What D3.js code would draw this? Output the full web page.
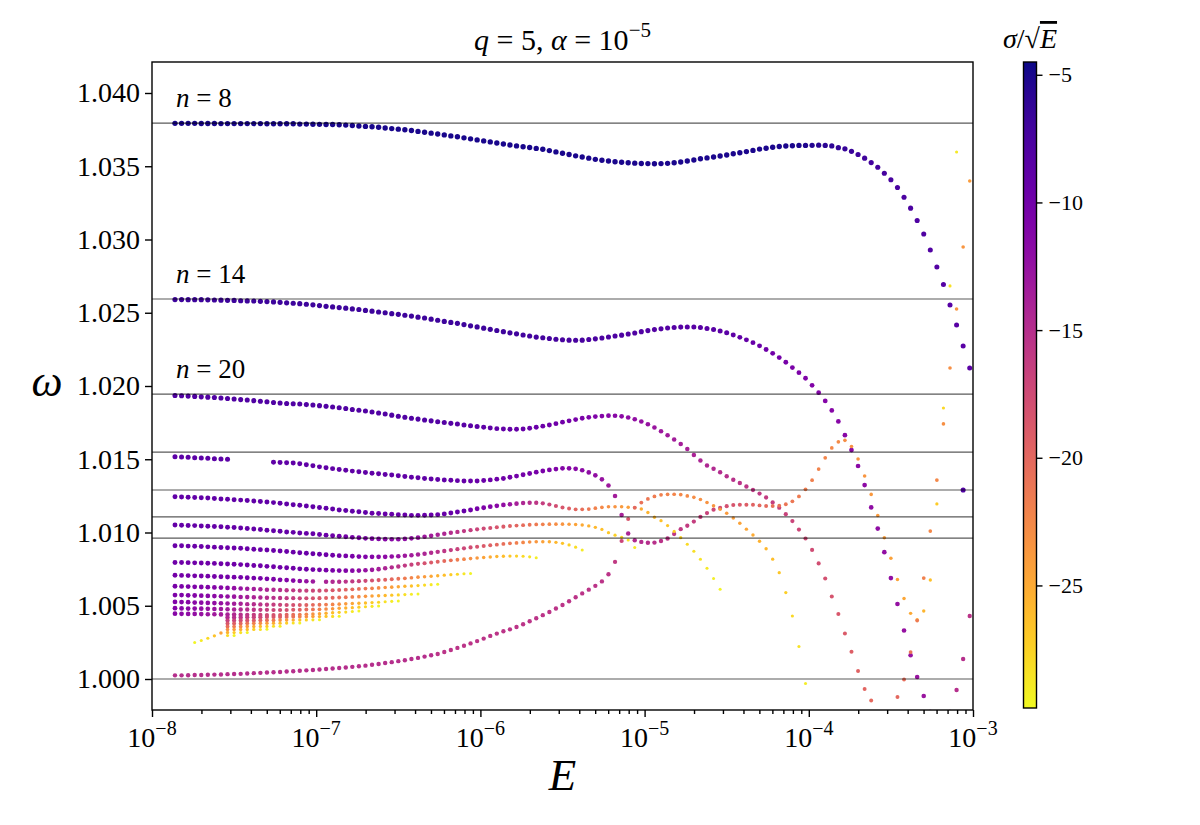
<!DOCTYPE html>
<html lang="en">
<head>
<meta charset="UTF-8">
<title>omega vs E</title>
<script src="https://cdn.jsdelivr.net/npm/d3@7"></script>
<style>
    body { margin: 0; background: #fff; }
    text { font-family: "Liberation Serif", "DejaVu Serif", serif; fill: #000; }
</style>
</head>
<body>
<svg width="1200" height="825"></svg>
<script>
// shared grid of log10(E) values the solutions were computed on
var logE = [-7.86,-7.82,-7.78,-7.74,-7.70,-7.66,-7.62,-7.58,-7.54,-7.50,
    -7.46,-7.42,-7.38,-7.34,-7.30,-7.26,-7.22,-7.18,-7.14,-7.10,
    -7.06,-7.02,-6.98,-6.94,-6.90,-6.86,-6.82,-6.78,-6.74,-6.70,
    -6.66,-6.62,-6.58,-6.54,-6.50,-6.46,-6.42,-6.38,-6.34,-6.30,
    -6.26,-6.22,-6.18,-6.14,-6.10,-6.06,-6.02,-5.98,-5.94,-5.90,
    -5.86,-5.82,-5.78,-5.74,-5.70,-5.66,-5.62,-5.58,-5.54,-5.50,
    -5.46,-5.42,-5.38,-5.34,-5.30,-5.26,-5.22,-5.18,-5.14,-5.10,
    -5.06,-5.02,-4.98,-4.94,-4.90,-4.86,-4.82,-4.78,-4.74,-4.70,
    -4.66,-4.62,-4.58,-4.54,-4.50,-4.46,-4.42,-4.38,-4.34,-4.30,
    -4.26,-4.22,-4.18,-4.14,-4.10,-4.06,-4.02,-3.98,-3.94,-3.90,
    -3.86,-3.82,-3.78,-3.74,-3.70,-3.66,-3.62,-3.58,-3.54,-3.50,
    -3.46,-3.42,-3.38,-3.34,-3.30,-3.26,-3.22,-3.18,-3.14,-3.10,
    -3.06,-3.02];

// asymptotic frequencies (horizontal lines)
var asymptotes = [1.03795, 1.02594, 1.01945, 1.01549, 1.01290, 1.01106, 1.00962, 1.00000];
var levelLabels = [["8", 1.03795], ["14", 1.02594], ["20", 1.01945]];

// n = 8
var n8_i0 = 0;
var n8_w = [1.03793,1.03793,1.03793,1.03793,1.03792,1.03792,1.03792,1.03791,1.03791,1.03791,
    1.03791,1.03791,1.03791,1.03791,1.03790,1.03790,1.03790,1.03790,1.03790,1.03788,
    1.03788,1.03787,1.03786,1.03785,1.03785,1.03783,1.03781,1.03778,1.03775,1.03772,
    1.03770,1.03766,1.03761,1.03757,1.03753,1.03749,1.03744,1.03738,1.03732,1.03726,
    1.03720,1.03714,1.03707,1.03701,1.03694,1.03687,1.03680,1.03673,1.03666,1.03659,
    1.03652,1.03645,1.03639,1.03633,1.03628,1.03622,1.03616,1.03607,1.03598,1.03589,
    1.03580,1.03571,1.03563,1.03555,1.03547,1.03541,1.03536,1.03531,1.03527,1.03524,
    1.03521,1.03519,1.03518,1.03517,1.03518,1.03520,1.03524,1.03529,1.03536,1.03543,
    1.03551,1.03557,1.03563,1.03570,1.03577,1.03585,1.03592,1.03600,1.03608,1.03617,
    1.03623,1.03630,1.03635,1.03638,1.03640,1.03642,1.03642,1.03643,1.03644,1.03642,
    1.03639,1.03627,1.03619,1.03602,1.03580,1.03555,1.03525,1.03493,1.03452,1.03408,
    1.03355,1.03288,1.03214,1.03130,1.03038,1.02928,1.02812,1.02693,1.02553,1.02416,
    1.02273,1.02123];
var n8_s = [-4.9,-4.9,-4.9,-4.9,-4.9,-4.9,-4.9,-4.9,-4.9,-4.9,
    -4.9,-4.9,-4.9,-4.9,-4.9,-4.9,-4.9,-4.9,-4.9,-4.9,
    -4.9,-4.9,-4.9,-4.9,-4.9,-4.9,-4.9,-4.9,-4.9,-4.9,
    -4.9,-4.9,-4.9,-4.9,-4.9,-4.9,-4.9,-4.9,-4.9,-4.9,
    -4.9,-4.9,-4.9,-4.9,-4.9,-4.9,-4.9,-4.9,-4.9,-4.9,
    -4.9,-4.9,-4.9,-4.9,-4.9,-4.9,-4.9,-4.9,-4.9,-4.9,
    -5,-5,-5,-5,-5,-5,-5,-5,-5,-5,
    -5,-5,-5,-5,-5,-5,-5,-5,-5,-5,
    -5,-5,-5,-5,-5,-5,-5,-5,-5,-5,
    -5,-5,-5,-5,-5,-5,-5.2,-5.4,-5.6,-5.8,
    -6,-6.2,-6.4,-6.6,-6.8,-7,-7.1,-7.2,-7.3,-7.4,
    -7.5,-7.6,-7.7,-7.8,-7.9,-8,-8.1,-8.2,-8.3,-8.4,
    -8.5,-8.6];

// n = 14
var n14_i0 = 0;
var n14_w = [1.02590,1.02590,1.02589,1.02589,1.02589,1.02588,1.02587,1.02586,1.02585,1.02584,
    1.02582,1.02581,1.02580,1.02578,1.02576,1.02574,1.02571,1.02568,1.02565,1.02562,
    1.02558,1.02554,1.02549,1.02544,1.02540,1.02535,1.02531,1.02526,1.02522,1.02516,
    1.02511,1.02505,1.02500,1.02494,1.02489,1.02483,1.02477,1.02470,1.02464,1.02456,
    1.02449,1.02441,1.02434,1.02428,1.02419,1.02411,1.02403,1.02395,1.02387,1.02379,
    1.02371,1.02363,1.02356,1.02348,1.02341,1.02334,1.02329,1.02324,1.02319,1.02316,
    1.02313,1.02312,1.02313,1.02317,1.02322,1.02328,1.02334,1.02341,1.02347,1.02355,
    1.02362,1.02371,1.02378,1.02385,1.02390,1.02396,1.02400,1.02402,1.02403,1.02402,
    1.02399,1.02393,1.02385,1.02375,1.02363,1.02348,1.02332,1.02315,1.02296,1.02274,
    1.02249,1.02223,1.02194,1.02162,1.02126,1.02091,1.02053,1.02005,1.01954,1.01898,
    1.01833,1.01758,1.01664,1.01563,1.01454,1.01324,1.01171,1.01027,1.00866,1.00689,
    1.00512,1.00331,1.00162,1.00014,0.99884,0.99775];
var n14_s = [-6.8,-6.8,-6.8,-6.8,-6.8,-6.8,-6.8,-6.8,-6.8,-6.8,
    -6.8,-6.8,-6.8,-6.8,-6.8,-6.8,-6.8,-6.8,-6.8,-6.8,
    -6.8,-6.8,-6.8,-6.8,-6.8,-6.8,-6.8,-6.8,-6.8,-6.8,
    -6.8,-6.8,-6.8,-6.8,-6.8,-6.8,-6.8,-6.8,-6.8,-6.8,
    -6.8,-6.8,-6.8,-6.8,-6.8,-6.8,-6.8,-6.8,-6.8,-6.8,
    -6.9,-7,-7,-7.1,-7.1,-7.2,-7.2,-7.3,-7.3,-7.4,
    -7.4,-7.5,-7.5,-7.6,-7.6,-7.7,-7.7,-7.8,-7.8,-7.9,
    -7.9,-8,-8,-8.1,-8.1,-8.2,-8.2,-8.3,-8.3,-8.4,
    -8.4,-8.5,-8.5,-8.6,-8.6,-8.8,-9,-9.2,-9.4,-9.6,
    -9.8,-10,-10.2,-10.4,-10.6,-10.8,-11,-11.1,-11.2,-11.3,
    -11.4,-11.5,-11.6,-11.7,-11.8,-11.9,-12,-12.1,-12.2,-12.3,
    -12.4,-12.5,-12.6,-12.7,-12.8,-12.9];

// n = 20
var n20_i0 = 0;
var n20_w = [1.01935,1.01933,1.01931,1.01929,1.01926,1.01924,1.01921,1.01918,1.01915,1.01911,
    1.01907,1.01904,1.01900,1.01896,1.01892,1.01887,1.01884,1.01881,1.01879,1.01877,
    1.01873,1.01870,1.01866,1.01861,1.01857,1.01851,1.01846,1.01840,1.01835,1.01829,
    1.01823,1.01816,1.01809,1.01801,1.01794,1.01787,1.01780,1.01774,1.01768,1.01762,
    1.01756,1.01751,1.01745,1.01740,1.01734,1.01728,1.01723,1.01718,1.01713,1.01709,
    1.01707,1.01705,1.01705,1.01707,1.01712,1.01718,1.01726,1.01734,1.01743,1.01753,
    1.01762,1.01771,1.01780,1.01786,1.01791,1.01795,1.01797,1.01797,1.01793,1.01785,
    1.01773,1.01758,1.01739,1.01717,1.01691,1.01664,1.01635,1.01604,1.01570,1.01529,
    1.01491,1.01458,1.01435,1.01411,1.01384,1.01360,1.01338,1.01314,1.01290,1.01266,
    1.01239,1.01205,1.01169,1.01125,1.01078,1.01020,1.00959,1.00881,1.00789,1.00686,
    1.00563,1.00444,1.00311,1.00186,1.00055,0.99932,0.99853];
var n20_s = [-8,-8,-8,-8,-8,-8,-8,-8,-8,-8,
    -8,-8,-8,-8,-8,-8,-8,-8,-8,-8,
    -8,-8,-8,-8,-8,-8,-8,-8,-8,-8,
    -8,-8,-8,-8,-8,-8,-8,-8,-8,-8,
    -8.1,-8.2,-8.3,-8.4,-8.5,-8.6,-8.7,-8.8,-8.9,-9,
    -9.1,-9.2,-9.3,-9.4,-9.5,-9.6,-9.7,-9.8,-9.9,-10,
    -10.2,-10.4,-10.6,-10.8,-11,-11.2,-11.4,-11.6,-11.8,-12,
    -12.2,-12.4,-12.6,-12.8,-13,-13.2,-13.4,-13.6,-13.8,-14,
    -14.2,-14.4,-14.6,-14.8,-15,-15.2,-15.4,-15.6,-15.8,-16,
    -16.2,-16.4,-16.6,-16.8,-17,-17.2,-17.4,-17.6,-17.8,-18,
    -18.3,-18.6,-18.9,-19.2,-19.5,-19.8,-20.1];

// fourth branch, first piece (before its gap)
var cD1_i0 = 0;
var cD1_w = [1.01517,1.01515,1.01513,1.01511,1.01509,1.01506,1.01504,1.01502,1.01500];
var cD1_s = [-8.7,-8.7,-8.7,-8.7,-8.7,-8.7,-8.7,-8.7,-8.7];

// fourth branch after the gap: dip, plateau, bump and steep rise at the right edge
var cD2_i0 = 15;
var cD2_w = [1.01479,1.01478,1.01476,1.01474,1.01469,1.01462,1.01455,1.01448,1.01442,1.01436,
    1.01430,1.01425,1.01419,1.01414,1.01410,1.01405,1.01401,1.01396,1.01392,1.01387,
    1.01382,1.01377,1.01373,1.01369,1.01365,1.01362,1.01358,1.01356,1.01354,1.01352,
    1.01352,1.01352,1.01355,1.01359,1.01364,1.01369,1.01377,1.01385,1.01394,1.01403,
    1.01412,1.01420,1.01427,1.01433,1.01438,1.01438,1.01435,1.01425,1.01410,1.01390,
    1.01363,1.01321,1.01249,1.01119,1.00993,1.00947,1.00936,1.00930,1.00931,1.00942,
    1.00959,1.00990,1.01023,1.01046,1.01075,1.01106,1.01133,1.01156,1.01168,1.01180,
    1.01188,1.01190,1.01190,1.01190,1.01185,1.01181,1.01181,1.01183,1.01193,1.01213,
    1.01246,1.01295,1.01357,1.01433,1.01510,1.01577,1.01619,1.01629,1.01587,1.01502,
    1.01386,1.01260,1.01116,1.00964,1.00825,1.00679,1.00550,1.00448,1.00405,1.00464,
    1.00676,1.01195,1.01850,1.02683,1.03597];
var cD2_s = [-8.9,-8.9,-8.9,-8.9,-8.9,-8.9,-8.9,-8.9,-8.9,-8.9,
    -8.9,-8.9,-8.9,-8.9,-8.9,-8.9,-8.9,-8.9,-8.9,-8.9,
    -8.9,-8.9,-8.9,-8.9,-8.9,-8.9,-9,-9.1,-9.2,-9.3,
    -9.4,-9.5,-9.6,-9.7,-9.8,-9.9,-10,-10.1,-10.2,-10.3,
    -10.4,-10.6,-10.8,-11,-11.2,-11.4,-11.6,-11.8,-12,-12.2,
    -12.6,-13,-13.4,-13.8,-14.2,-14.6,-14.8,-15,-15.2,-15.4,
    -15.6,-15.8,-16,-16.2,-16.4,-16.6,-16.8,-17.2,-17.6,-18,
    -18.4,-18.8,-19.2,-19.6,-20,-20.3,-20.6,-20.9,-21.1,-21.3,
    -21.5,-21.7,-21.9,-22.1,-22.3,-22.5,-22.7,-22.9,-23.1,-23.3,
    -23.5,-23.7,-23.9,-24.1,-24.3,-24.5,-24.7,-24.9,-25.1,-25.7,
    -26.4,-27.1,-27.8,-28.4,-28.9];

// fifth branch
var cE_i0 = 0;
var cE_w = [1.01244,1.01242,1.01241,1.01239,1.01237,1.01235,1.01232,1.01229,1.01227,1.01224,
    1.01221,1.01218,1.01215,1.01212,1.01208,1.01204,1.01200,1.01195,1.01190,1.01186,
    1.01181,1.01176,1.01171,1.01165,1.01160,1.01154,1.01150,1.01145,1.01141,1.01137,
    1.01132,1.01130,1.01126,1.01124,1.01121,1.01119,1.01117,1.01117,1.01118,1.01120,
    1.01122,1.01127,1.01133,1.01140,1.01147,1.01154,1.01162,1.01169,1.01176,1.01182,
    1.01188,1.01193,1.01197,1.01201,1.01203,1.01203,1.01199,1.01191,1.01181,1.01171,
    1.01163,1.01158,1.01158,1.01160,1.01166,1.01172,1.01176,1.01176,1.01176,1.01173,
    1.01169,1.01160,1.01137,1.01104,1.01081,1.01047,1.01007,1.00965,1.00920,1.00872,
    1.00817,1.00756,1.00686,1.00613];
var cE_s = [-9,-9,-9,-9,-9,-9,-9,-9,-9,-9,
    -9,-9,-9,-9,-9,-9,-9,-9,-9,-9,
    -9,-9,-9,-9,-9,-9,-9,-9,-9,-9,
    -9.4,-9.4,-9.4,-9.4,-9.4,-9.4,-9.4,-9.4,-9.4,-9.4,
    -9.4,-9.4,-9.4,-9.4,-9.4,-10,-10.4,-10.8,-11.2,-11.6,
    -12.2,-12.9,-13.6,-14.3,-15,-15.7,-16.4,-17.1,-17.8,-18.5,
    -19.2,-19.9,-20.6,-21.3,-22,-22.5,-23,-23.4,-23.8,-24.2,
    -24.6,-25,-25.6,-26,-26.4,-26.8,-27.2,-27.6,-28,-28.3,
    -28.6,-28.9,-29.2,-29.5];

// lowest branch (starts near omega = 1)
var cZ_i0 = 0;
var cZ_w = [1.00025,1.00025,1.00026,1.00027,1.00027,1.00029,1.00030,1.00031,1.00033,1.00034,
    1.00035,1.00038,1.00040,1.00042,1.00044,1.00046,1.00048,1.00051,1.00053,1.00056,
    1.00059,1.00061,1.00065,1.00068,1.00072,1.00075,1.00078,1.00083,1.00087,1.00091,
    1.00097,1.00102,1.00109,1.00115,1.00122,1.00128,1.00136,1.00144,1.00153,1.00162,
    1.00171,1.00184,1.00198,1.00212,1.00227,1.00243,1.00259,1.00276,1.00294,1.00310,
    1.00326,1.00339,1.00355,1.00374,1.00394,1.00415,1.00436,1.00457,1.00481,1.00505,
    1.00531,1.00558,1.00584,1.00610,1.00636,1.00666,1.00715,1.00799,1.00942,1.01092,
    1.01170,1.01204,1.01229,1.01246,1.01257,1.01261,1.01261,1.01259,1.01250,1.01240,
    1.01225,1.01205,1.01182,1.01159,1.01132,1.01099,1.01063,1.01023,1.00983,1.00940,
    1.00889,1.00818,1.00726,1.00590,1.00430,1.00222,0.99969];
var cZ_s = [-15,-15,-15,-15,-15,-15,-15,-15,-15,-15,
    -15,-15,-15,-15,-15,-15,-15,-15,-15,-15,
    -15,-15,-15,-15,-15,-15,-15,-15,-15,-15,
    -15,-15,-15,-15,-15,-15,-15,-15,-15,-15,
    -15.5,-15.5,-15.5,-15.5,-15.5,-15.5,-15.5,-15.5,-15.5,-15.5,
    -15.5,-15.5,-15.5,-15.5,-15.5,-15.5,-15.5,-15.5,-15.5,-15.5,
    -15.5,-15.5,-15.5,-15.5,-15.5,-15.5,-15.5,-16,-17,-18.5,
    -20,-20.8,-21.3,-21.6,-21.9,-22.1,-22.3,-22.5,-22.7,-22.9,
    -23.1,-23.3,-23.5,-23.7,-23.9,-24.1,-24.4,-24.7,-25,-25.4,
    -25.8,-26.3,-26.8,-27.3,-27.9,-28.5,-29.1];

// branches that end inside the plot, top to bottom
var cF_i0 = 0;
var cF_w = [1.01051,1.01050,1.01048,1.01047,1.01045,1.01043,1.01041,1.01039,1.01036,1.01034,
    1.01031,1.01027,1.01024,1.01021,1.01016,1.01012,1.01008,1.01004,1.01001,1.00997,
    1.00994,1.00991,1.00986,1.00982,1.00978,1.00974,1.00971,1.00967,1.00964,1.00960,
    1.00958,1.00956,1.00954,1.00954,1.00954,1.00956,1.00960,1.00965,1.00971,1.00977,
    1.00984,1.00991,1.00998,1.01004,1.01010,1.01016,1.01022,1.01027,1.01031,1.01036,
    1.01040,1.01044,1.01047,1.01050,1.01053,1.01055,1.01056,1.01057,1.01057,1.01057,
    1.01056,1.01054,1.01051,1.01045,1.01035,1.01021,1.00999,1.00982,1.00967,1.00949,
    1.00898];
var cF_s = [-9.2,-9.2,-9.2,-9.2,-9.2,-9.2,-9.2,-9.2,-9.2,-9.2,
    -9.2,-9.2,-9.2,-9.2,-9.2,-9.2,-9.2,-9.2,-9.2,-9.2,
    -9.3,-9.4,-9.5,-9.6,-9.8,-10,-10.2,-10.4,-10.6,-10.8,
    -11,-11.2,-11.4,-11.6,-11.8,-12,-12.2,-12.6,-13,-13.4,
    -13.9,-14.4,-14.9,-15.4,-15.9,-16.4,-16.9,-17.4,-17.9,-18.4,
    -18.9,-19.4,-19.9,-20.4,-20.9,-21.4,-21.9,-22.4,-22.9,-23.4,
    -23.9,-24.4,-24.9,-25.4,-25.9,-26.4,-26.9,-27.4,-27.9,-28.4,
    -28.9];

var cG_i0 = 0;
var cG_w = [1.00910,1.00909,1.00907,1.00906,1.00904,1.00902,1.00900,1.00898,1.00896,1.00894,
    1.00892,1.00889,1.00886,1.00883,1.00881,1.00877,1.00874,1.00870,1.00866,1.00862,
    1.00858,1.00855,1.00851,1.00848,1.00845,1.00842,1.00840,1.00838,1.00836,1.00834,
    1.00834,1.00834,1.00834,1.00836,1.00838,1.00841,1.00845,1.00850,1.00855,1.00862,
    1.00868,1.00874,1.00880,1.00886,1.00892,1.00898,1.00903,1.00908,1.00913,1.00917,
    1.00922,1.00926,1.00929,1.00932,1.00935,1.00937,1.00937,1.00937,1.00933,1.00926,
    1.00915,1.00900,1.00881];
var cG_s = [-9.6,-9.6,-9.6,-9.6,-9.6,-9.6,-9.6,-9.6,-9.6,-9.6,
    -9.6,-9.6,-9.6,-9.6,-9.6,-9.6,-9.6,-9.6,-9.6,-9.6,
    -9.6,-9.6,-9.6,-9.8,-10,-10.2,-10.4,-10.6,-10.8,-11,
    -11.3,-11.6,-11.9,-12.2,-12.6,-13,-13.4,-13.8,-14.2,-14.7,
    -15.2,-15.7,-16.2,-16.7,-17.2,-17.7,-18.2,-18.8,-19.4,-20,
    -20.6,-21.2,-21.8,-22.4,-23,-23.6,-24.3,-25,-25.8,-26.6,
    -27.4,-28.2,-29];

var cH_i0 = 0;
var cH_w = [1.00795,1.00795,1.00794,1.00793,1.00792,1.00790,1.00789,1.00787,1.00785,1.00783,
    1.00781,1.00778,1.00775,1.00773,1.00769,1.00766,1.00762,1.00759,1.00756,1.00752,
    1.00749,1.00747,1.00745,1.00743,1.00741,1.00740,1.00739,1.00739,1.00740,1.00742,
    1.00745,1.00750,1.00756,1.00762,1.00768,1.00774,1.00780,1.00786,1.00790,1.00795,
    1.00800,1.00805,1.00810,1.00814,1.00818,1.00822,1.00826,1.00830,1.00833,1.00836,
    1.00838,1.00839,1.00839,1.00838,1.00834,1.00827];
var cH_s = [-9.9,-9.9,-9.9,-9.9,-9.9,-9.9,-9.9,-9.9,-9.9,-9.9,
    -9.9,-9.9,-9.9,-9.9,-9.9,-9.9,-9.9,-9.9,-9.9,-9.9,
    -9.9,-10.1,-10.3,-10.5,-10.7,-10.9,-11.1,-11.5,-12,-12.5,
    -13,-13.6,-14.2,-14.8,-15.4,-16,-16.7,-17.4,-18.1,-18.8,
    -19.5,-20.2,-20.9,-21.6,-22.3,-23,-23.7,-24.4,-25,-25.6,
    -26.2,-26.8,-27.4,-28,-28.6,-29.2];

var cI_i0 = 0;
var cI_w = [1.00708,1.00707,1.00706,1.00704,1.00703,1.00702,1.00700,1.00698,1.00696,1.00695,
    1.00694,1.00691,1.00689,1.00687,1.00684,1.00681,1.00677,1.00675,1.00672,1.00669,
    1.00667,1.00665,null,1.00664,1.00664,1.00664,1.00665,1.00666,1.00668,1.00670,
    1.00672,1.00675,1.00677,1.00681,1.00684,1.00687,1.00691,1.00695,1.00698,1.00702,
    1.00705,1.00709,1.00712,1.00715,1.00718,1.00720];
var cI_s = [-10.2,-10.2,-10.2,-10.2,-10.2,-10.2,-10.2,-10.2,-10.2,-10.2,
    -10.2,-10.2,-10.2,-10.4,-10.6,-10.8,-11,-11.2,-11.4,-12,
    -12.5,-13,-13.5,-14,-14.5,-15,-15.5,-16,-16.6,-17.3,
    -18,-18.7,-19.4,-20.1,-20.8,-21.5,-22.3,-23.1,-23.9,-24.7,
    -25.5,-26.3,-27.1,-27.9,-28.7,-29.5];

var cJ_i0 = 0;
var cJ_w = [1.00633,1.00632,1.00631,1.00629,1.00628,1.00627,1.00625,1.00624,1.00622,1.00620,
    1.00618,1.00616,1.00614,1.00612,1.00610,1.00609,1.00607,1.00606,1.00605,1.00603,
    1.00603,1.00603,1.00603,1.00604,1.00606,1.00607,1.00610,1.00612,1.00615,1.00617,
    1.00619,1.00622,1.00625,1.00627,1.00630,1.00633,1.00635,1.00638,1.00641,1.00644,
    1.00646];
var cJ_s = [-10.5,-10.6,-10.7,-10.8,-10.9,-11,-11.2,-11.4,-11.6,-12.2,
    -12.6,-13,-13.4,-13.8,-14.2,-14.6,-15,-15.4,-15.8,-16.2,
    -16.6,-17.1,-17.6,-18.1,-18.6,-19.1,-19.6,-20.1,-20.6,-21.3,
    -22,-22.7,-23.4,-24.1,-24.8,-25.6,-26.4,-27.2,-28,-28.8,
    -29.6];

var cK_i0 = 0;
var cK_w = [1.00573,1.00573,1.00571,1.00570,1.00569,1.00567,1.00566,1.00565,1.00563,1.00562,
    1.00560,1.00559,1.00558,1.00556,1.00555,1.00554,1.00553,1.00552,1.00552,1.00551,
    1.00551,1.00551,1.00552,1.00553,1.00554,1.00556,1.00558,1.00560,1.00562,1.00564,
    1.00566,1.00568,1.00570,1.00572,1.00574,1.00576,1.00578,1.00580];
var cK_s = [-10.8,-10.9,-11,-11.2,-11.4,-11.6,-11.8,-12,-12.3,-12.8,
    -13.2,-13.6,-14,-14.4,-14.8,-15.2,-15.6,-16,-16.4,-16.9,
    -17.5,-18.1,-18.7,-19.3,-19.9,-20.5,-21.1,-21.9,-22.7,-23.5,
    -24.3,-25.1,-25.9,-26.7,-27.5,-28.3,-29,-29.6];

var cL_i0 = 0;
var cL_w = [1.00526,1.00525,1.00524,1.00522,1.00521,1.00519,1.00518,1.00517,1.00515,1.00514,
    1.00513,1.00511,1.00510,1.00509,1.00507,1.00507,1.00506,1.00505,1.00505,1.00505,
    1.00505,1.00506,1.00507,1.00508,1.00509,1.00511,1.00513,1.00515,1.00517,1.00519,
    1.00522,1.00524,1.00527,1.00530,1.00532];
var cL_s = [-11,-11.2,-11.4,-11.6,-11.8,-12,-12.2,-12.5,-12.8,-13.4,
    -13.9,-14.4,-14.9,-15.4,-15.9,-16.4,-16.9,-17.5,-18.1,-18.8,
    -19.5,-20.2,-20.9,-21.6,-22.3,-23.1,-23.9,-24.7,-25.5,-26.3,
    -27,-27.7,-28.4,-29,-29.6];

var cM_i0 = 0;
var cM_w = [1.00483,1.00482,1.00481,1.00481,1.00480,1.00479,1.00478,1.00478,1.00476,1.00475,
    1.00474,1.00474,1.00473,1.00472,1.00472,1.00471,1.00471,1.00471,1.00472,1.00472,
    1.00474,1.00475,1.00476,1.00478,1.00480,1.00483,1.00485,1.00487,1.00490,1.00493,
    1.00496,1.00498];
var cM_s = [-11.2,-11.4,-11.6,-11.9,-12.2,-12.5,-12.8,-13.1,-13.4,-14,
    -14.5,-15,-15.5,-16,-16.5,-17,-17.5,-18.1,-18.8,-19.5,
    -20.3,-21.1,-21.9,-22.7,-23.6,-24.5,-25.4,-26.3,-27.2,-28,
    -28.8,-29.6];

var cN_i0 = 0;
var cN_w = [1.00446,1.00445,1.00444,1.00444,1.00443,1.00442,1.00442,1.00441,1.00440,1.00440,
    1.00439,1.00438,1.00438,1.00437,1.00437,1.00437,1.00437,1.00438,1.00439,1.00440,
    1.00442,1.00444,1.00446,1.00449,1.00452,1.00455,1.00457,1.00461,1.00464];
var cN_s = [-11.4,-11.7,-12,-12.3,-12.6,-12.9,-13.2,-13.5,-13.8,-14.5,
    -15,-15.6,-16.2,-16.8,-17.4,-18,-18.8,-19.7,-20.6,-21.5,
    -22.4,-23.3,-24.3,-25.3,-26.2,-27,-27.9,-28.8,-29.6];

// short high-n branches in the lower-left cluster
var cO1_i0 = 8;
var cO1_w = [1.00420,1.00420,1.00420,1.00421,1.00422,1.00422,1.00423,1.00423,1.00423,1.00424,
    1.00425,1.00425,1.00425,1.00426,1.00426,1.00427,1.00427,1.00428];
var cO1_s = [-14.5,-15,-15.5,-16,-16.6,-17.2,-17.8,-18.5,-19.2,-20,
    -20.9,-21.9,-23,-24.2,-25.5,-26.8,-28.1,-29.5];
var cO2_i0 = 8;
var cO2_w = [1.00399,1.00399,1.00400,1.00400,1.00400,1.00401,1.00401,1.00401,1.00402,1.00402,
    1.00402,1.00403,1.00403,1.00404,1.00404];
var cO2_s = [-16.5,-17,-17.6,-18.2,-18.9,-19.7,-20.6,-21.6,-22.7,-23.9,
    -25.1,-26.3,-27.4,-28.5,-29.5];
var cO3_i0 = 8;
var cO3_w = [1.00379,1.00379,1.00379,1.00380,1.00380,1.00380,1.00381,1.00381,1.00381,1.00382,
    1.00382,1.00382];
var cO3_s = [-18.5,-19.2,-20,-20.9,-21.9,-22.9,-24,-25.1,-26.2,-27.3,-28.4,-29.5];
var cO4_i0 = 8;
var cO4_w = [1.00358,1.00358,1.00358,1.00359,1.00359,1.00359,1.00359,1.00360,1.00360];
var cO4_s = [-20.5,-21.6,-22.7,-23.8,-24.9,-26,-27.1,-28.2,-29.3];
var cO5_i0 = 8;
var cO5_w = [1.00338,1.00338,1.00338,1.00338,1.00338,1.00338,1.00339];
var cO5_s = [-23,-24,-25,-26,-27.2,-28.4,-29.5];
var cO6_i0 = 8;
var cO6_w = [1.00317,1.00317,1.00317,1.00317];
var cO6_s = [-25.5,-27,-28.3,-29.5];
var cO7_i0 = 8;
var cO7_w = [1.00297,1.00297];
var cO7_s = [-28,-29.5];
var cDg_i0 = 3;
var cDg_w = [1.00249,1.00263,1.00278,1.00295,1.00314];
var cDg_s = [-29.6,-29,-28,-26.5,-24.5];

// scattered solutions near the right edge
var cQ_i0 = 110;
var cQ_w = [0.99877,0.99997,1.00184,1.00399,1.00689,1.01010,1.01358,1.01741,1.02123,1.02526,1.02949,1.03399];
var cQ_s = [-20,-20.5,-21,-21.5,-22,-22.5,-22.5,-23,-23,-23.5,-23.5,-24];
var cR_i0 = 118;
var cR_w = [0.99775,0.99925,1.00137,1.00430];
var cR_s = [-15,-15,-15,-15.5];
var cX_i0 = 120;
var cX_w = [1.01290];
var cX_s = [-8];

var tracks = [
    [n8_i0, n8_w, n8_s], [n14_i0, n14_w, n14_s], [n20_i0, n20_w, n20_s],
    [cD1_i0, cD1_w, cD1_s], [cD2_i0, cD2_w, cD2_s], [cE_i0, cE_w, cE_s],
    [cF_i0, cF_w, cF_s], [cG_i0, cG_w, cG_s], [cH_i0, cH_w, cH_s],
    [cI_i0, cI_w, cI_s], [cJ_i0, cJ_w, cJ_s], [cK_i0, cK_w, cK_s],
    [cL_i0, cL_w, cL_s], [cM_i0, cM_w, cM_s], [cN_i0, cN_w, cN_s],
    [cO1_i0, cO1_w, cO1_s], [cO2_i0, cO2_w, cO2_s], [cO3_i0, cO3_w, cO3_s],
    [cO4_i0, cO4_w, cO4_s], [cO5_i0, cO5_w, cO5_s], [cO6_i0, cO6_w, cO6_s],
    [cO7_i0, cO7_w, cO7_s], [cDg_i0, cDg_w, cDg_s],
    [cZ_i0, cZ_w, cZ_s], [cQ_i0, cQ_w, cQ_s], [cR_i0, cR_w, cR_s], [cX_i0, cX_w, cX_s]
];

var points = [];
tracks.forEach(function (t) {
    t[1].forEach(function (w, k) {
        if (w === null) return;
        points.push({E: Math.pow(10, logE[t[0] + k]), w: w, s: t[2][k]});
    });
});

var svg = d3.select("svg");
// plot box (window.top is reserved, so these get their own names)
var pLeft = 152, pRight = 973, pTop = 62, pBottom = 710;

var x = d3.scaleLog().domain([1e-8, 1e-3]).range([pLeft, pRight]);
var y = d3.scaleLinear().domain([0.997884, 1.042116]).range([pBottom, pTop]);
var sMax = -4.5, sMin = -29.8;
var color = d3.scaleSequential(d3.interpolatePlasma).domain([sMax, sMin]);
var radius = d3.scaleLinear().domain([sMax, sMin]).range([2.7, 1.5]);

var defs = svg.append("defs");
defs.append("clipPath").attr("id", "plotclip")
    .append("rect").attr("x", pLeft).attr("y", pTop)
    .attr("width", pRight - pLeft).attr("height", pBottom - pTop);

// dots
svg.append("g").attr("clip-path", "url(#plotclip)")
    .selectAll("circle").data(points).enter().append("circle")
    .attr("cx", function (d) { return x(d.E); })
    .attr("cy", function (d) { return y(d.w); })
    .attr("r", function (d) { return radius(d.s); })
    .attr("fill", function (d) { return color(d.s); });

// asymptote lines
svg.append("g").selectAll("line").data(asymptotes).enter().append("line")
    .attr("x1", pLeft).attr("x2", pRight)
    .attr("y1", function (d) { return y(d); })
    .attr("y2", function (d) { return y(d); })
    .attr("stroke", "#000").attr("stroke-opacity", 0.65).attr("stroke-width", 1.2);

// n labels
levelLabels.forEach(function (l) {
    var t = svg.append("text").attr("x", 176).attr("y", y(l[1]) - 16).attr("font-size", 27);
    t.append("tspan").attr("font-style", "italic").text("n");
    t.append("tspan").text(" = " + l[0]);
});

// x axis: major and minor ticks
var majors = [1e-8, 1e-7, 1e-6, 1e-5, 1e-4, 1e-3];
var minors = [];
for (var dec = -8; dec < -3; dec++) {
    for (var m = 2; m <= 9; m++) minors.push(m * Math.pow(10, dec));
}
var gx = svg.append("g").attr("transform", "translate(0," + pBottom + ")");
gx.append("g").call(d3.axisBottom(x).tickValues(minors).tickSize(4).tickFormat(""));
gx.append("g").call(d3.axisBottom(x).tickValues(majors).tickSize(7).tickFormat(""));
gx.selectAll(".domain").remove();
gx.selectAll(".tick line").attr("stroke-width", 1.4);

majors.forEach(function (v) {
    var t = svg.append("text").attr("x", x(v)).attr("y", pBottom + 37)
        .attr("text-anchor", "middle").attr("font-size", 28);
    t.append("tspan").text("10");
    t.append("tspan").attr("dy", -12).attr("font-size", 20)
        .text("\u2212" + Math.round(-Math.log10(v)));
});

// y axis
var gy = svg.append("g").attr("transform", "translate(" + pLeft + ",0)")
    .call(d3.axisLeft(y).tickValues([1.000, 1.005, 1.010, 1.015, 1.020, 1.025, 1.030, 1.035, 1.040])
        .tickSize(7).tickPadding(5).tickFormat(d3.format(".3f")));
gy.selectAll(".domain").remove();
gy.selectAll(".tick line").attr("stroke-width", 1.4);
gy.selectAll(".tick text").attr("font-size", 28)
    .style("font-family", '"Liberation Serif", serif');

// frame
svg.append("rect").attr("x", pLeft).attr("y", pTop)
    .attr("width", pRight - pLeft).attr("height", pBottom - pTop)
    .attr("fill", "none").attr("stroke", "#000").attr("stroke-width", 1.4);

// axis labels and title
svg.append("text").attr("x", (pLeft + pRight) / 2).attr("y", 790)
    .attr("text-anchor", "middle").attr("font-size", 45).attr("font-style", "italic").text("E");
svg.append("text").attr("x", 47).attr("y", 396)
    .attr("text-anchor", "middle").attr("font-size", 44).attr("font-style", "italic").text("\u03c9");

var title = svg.append("text").attr("x", (pLeft + pRight) / 2).attr("y", 50)
    .attr("text-anchor", "middle").attr("font-size", 30);
title.append("tspan").attr("font-style", "italic").text("q");
title.append("tspan").text(" = 5, ");
title.append("tspan").attr("font-style", "italic").text("\u03b1");
title.append("tspan").text(" = 10");
title.append("tspan").attr("dy", -13).attr("font-size", 21).text("\u22125");

// colorbar
var cbX = 1023.5, cbW = 13, cbTop = 62, cbBottom = 708;
var grad = defs.append("linearGradient").attr("id", "cbgrad")
    .attr("x1", 0).attr("y1", 0).attr("x2", 0).attr("y2", 1);
d3.range(0, 1.0001, 0.05).forEach(function (t) {
    grad.append("stop").attr("offset", t).attr("stop-color", d3.interpolatePlasma(t));
});
svg.append("rect").attr("x", cbX).attr("y", cbTop).attr("width", cbW)
    .attr("height", cbBottom - cbTop).attr("fill", "url(#cbgrad)");
svg.append("rect").attr("x", cbX).attr("y", cbTop).attr("width", cbW)
    .attr("height", cbBottom - cbTop).attr("fill", "none")
    .attr("stroke", "#000").attr("stroke-width", 1.4);
var cbScale = d3.scaleLinear().domain([sMax, sMin]).range([cbTop, cbBottom]);
var gc = svg.append("g").attr("transform", "translate(" + (cbX + cbW) + ",0)")
    .call(d3.axisRight(cbScale).tickValues([-5, -10, -15, -20, -25]).tickSize(6).tickPadding(6)
        .tickFormat(d3.format("d")));
gc.selectAll(".domain").remove();
gc.selectAll(".tick line").attr("stroke-width", 1.4);
gc.selectAll(".tick text").attr("font-size", 22)
    .style("font-family", '"Liberation Serif", serif');

var cbl = svg.append("text").attr("x", cbX + cbW / 2).attr("y", 48)
    .attr("text-anchor", "middle").attr("font-size", 28);
cbl.append("tspan").attr("font-style", "italic").text("\u03c3");
cbl.append("tspan").text("/\u221a");
cbl.append("tspan").attr("font-style", "italic")
    .style("text-decoration", "overline").text("E");
</script>
</body>
</html>
